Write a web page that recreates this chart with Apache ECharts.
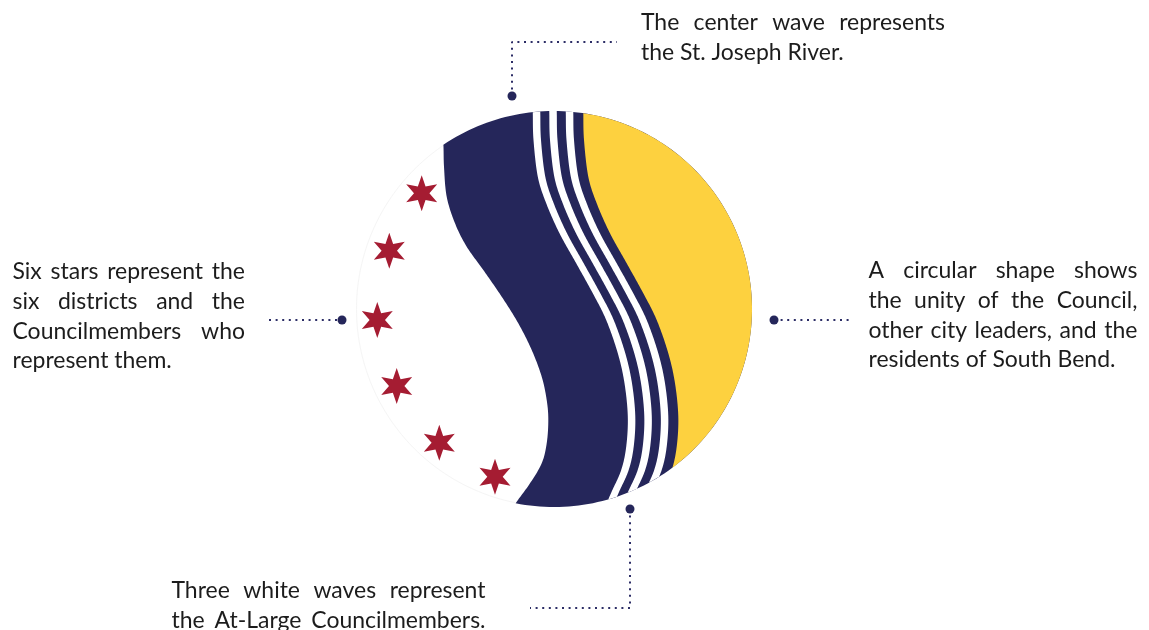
<!DOCTYPE html>
<html>
<head>
<meta charset="utf-8">
<script src="https://cdn.jsdelivr.net/npm/echarts@6/dist/echarts.min.js"></script>
<style>
html,body{margin:0;padding:0;background:#ffffff;}
#main{width:1149px;height:630px;}
</style>
</head>
<body>
<div id="main"></div>
<script>
// ---------------- data (in the chart's own x/y value space) ----------------
const logoRing = [554, 309, 198];            // centre x, centre y, radius
const shoreEdge = [[441,128],[443.3,143.3],[444,166.7],[446.7,196.7],[455,223.3],[466.7,246.7],[483.3,270],[501.7,296.7],[518.3,323.3],[531.7,350],[541.7,376.7],[546.7,400],[548.3,420],[546.7,443.3],[541.7,463.3],[530,483.3],[516.7,501.7],[508,515]];
const riverEdge = [[583,88],[583.3,113.3],[584,140],[588.3,176.7],[596.7,203.3],[610,233.3],[626.7,263.3],[643.3,293.3],[656.7,320],[668.3,353.3],[675,383.3],[678.3,416.7],[676.7,446.7],[671.7,470],[662,492],[652,515]];
const waveOffsets = [[-50.5,-43],[-34,-26.5],[-17.5,-10]];
const starPoints = [[421.7,193.3],[389.3,250.7],[377.3,320],[396.7,386],[439.3,442.7],[495,476.7]];
const calloutDots = [[512,96],[342,320],[774,320],[630,509]];
const calloutTop = [[512,96],[512,42],[617,42]];
const calloutLeft = [[269,320],[342,320]];
const calloutRight = [[774,320],[851,320]];
const calloutBottom = [[630,509],[630,608],[530,608]];
const noteTopLines = ["The center wave represents", "the St. Joseph River."];
const noteLeftLines = ["Six stars represent the", "six districts and the", "Councilmembers who", "represent them."];
const noteRightLines = ["A circular shape shows", "the unity of the Council,", "other city leaders, and the", "residents of South Bend."];
const noteBottomLines = ["Three white waves represent", "the At-Large Councilmembers."];

// ---------------- styles ----------------
const NAVY = '#25265a';
const GOLD = '#fdd13f';
const RED = '#a51c32';
const LINE = '#2c2d66';
const INK = '#1c1c1c';
const FONT = 'Lato';

// ---------------- geometry helpers ----------------
const [CX, CY, CR] = logoRing;
function spline(pts, n) {
  const out = [];
  for (let i = 0; i < pts.length - 1; i++) {
    const p0 = pts[Math.max(i - 1, 0)], p1 = pts[i], p2 = pts[i + 1], p3 = pts[Math.min(i + 2, pts.length - 1)];
    for (let s = 0; s < n; s++) {
      const t = s / n, t2 = t * t, t3 = t2 * t;
      const f = (a, b, c, d) => 0.5 * ((2 * b) + (-a + c) * t + (2 * a - 5 * b + 4 * c - d) * t2 + (-a + 3 * b - 3 * c + d) * t3);
      out.push([f(p0[0], p1[0], p2[0], p3[0]), f(p0[1], p1[1], p2[1], p3[1])]);
    }
  }
  out.push(pts[pts.length - 1].slice());
  return out;
}
const inside = p => (p[0] - CX) ** 2 + (p[1] - CY) ** 2 <= CR * CR;
function cross(a, b) {
  let lo = 0, hi = 1;
  const ia = inside(a);
  for (let k = 0; k < 30; k++) {
    const m = (lo + hi) / 2;
    const p = [a[0] + (b[0] - a[0]) * m, a[1] + (b[1] - a[1]) * m];
    if (inside(p) === ia) lo = m; else hi = m;
  }
  const m = (lo + hi) / 2;
  return [a[0] + (b[0] - a[0]) * m, a[1] + (b[1] - a[1]) * m];
}
function clip(pts) {
  let i0 = pts.findIndex(inside);
  let i1 = pts.length - 1;
  while (i1 >= 0 && !inside(pts[i1])) i1--;
  const out = [];
  if (i0 > 0) out.push(cross(pts[i0 - 1], pts[i0]));
  for (let i = i0; i <= i1; i++) out.push(pts[i]);
  if (i1 < pts.length - 1) out.push(cross(pts[i1 + 1], pts[i1]));
  return out;
}
const ang = p => Math.atan2(p[1] - CY, p[0] - CX);
function arc(a0, a1, n, r) {
  const rr = r || CR;
  const out = [];
  for (let i = 0; i <= n; i++) {
    const a = a0 + (a1 - a0) * i / n;
    out.push([CX + rr * Math.cos(a), CY + rr * Math.sin(a)]);
  }
  return out;
}
const shoreClip = clip(spline(shoreEdge, 16));
function sideShape(c) {
  return c.concat(arc(ang(c[c.length - 1]), ang(c[0]), 160));
}
const shapes = [];
shapes.push({ pts: sideShape(shoreClip), fill: NAVY });
waveOffsets.forEach(o => {
  const l = clip(spline(riverEdge.map(p => [p[0] + o[0], p[1]]), 16));
  const r = clip(spline(riverEdge.map(p => [p[0] + o[1], p[1]]), 16));
  shapes.push({ pts: l.concat(r.reverse()), fill: '#ffffff' });
});
shapes.push({ pts: sideShape(clip(spline(riverEdge, 16))), fill: GOLD });
// faint outline only on the open (white) left side
const aTop = ang(shoreClip[0]), aBot = ang(shoreClip[shoreClip.length - 1]);
const ring = arc(aBot, aTop + Math.PI * 2, 120, CR - 0.5);

function starPath() {
  let d = '';
  for (let k = 0; k < 12; k++) {
    const a = (-90 + k * 30) * Math.PI / 180;
    const r = k % 2 === 0 ? 100 : 43;
    d += (k ? 'L' : 'M') + (r * Math.cos(a)).toFixed(2) + ' ' + (r * Math.sin(a)).toFixed(2);
  }
  return 'path://' + d + 'Z';
}

function dotted(name, pts) {
  return {
    type: 'line', name, data: pts, symbol: 'none', silent: true, z: 4,
    lineStyle: { color: LINE, width: 2, type: [2, 4.6], cap: 'butt', opacity: 1 }
  };
}

const chart = echarts.init(document.getElementById('main'), null, { renderer: 'canvas' });
chart.setOption({
  animation: false,
  backgroundColor: '#ffffff',
  grid: { left: 0, right: 0, top: 0, bottom: 0 },
  xAxis: { type: 'value', min: 0, max: 1149, show: false },
  yAxis: { type: 'value', min: 0, max: 630, inverse: true, show: false },
  series: [
    {
      type: 'custom', name: 'logo', silent: true, z: 2,
      data: [[0, 0]],
      encode: { x: 0, y: 1 },
      renderItem: function (params, api) {
        const children = [{
          type: 'polyline',
          shape: { points: ring.map(p => api.coord(p)) },
          style: { stroke: '#f5f5f5', lineWidth: 1, fill: null }
        }];
        shapes.forEach(s => children.push({
          type: 'polygon',
          shape: { points: s.pts.map(p => api.coord(p)) },
          style: { fill: s.fill }
        }));
        return { type: 'group', children };
      }
    },
    {
      type: 'scatter', name: 'stars', data: starPoints, silent: true, z: 3,
      symbol: starPath(), symbolSize: [31, 36],
      itemStyle: { color: RED, opacity: 1 }
    },
    dotted('c1', calloutTop), dotted('c2', calloutLeft), dotted('c3', calloutRight), dotted('c4', calloutBottom),
    {
      type: 'scatter', name: 'dots', data: calloutDots, silent: true, z: 5,
      symbol: 'circle', symbolSize: 9, itemStyle: { color: NAVY, opacity: 1 }
    }
  ]
});

// ---------------- justified text notes ----------------
const ctx = document.createElement('canvas').getContext('2d');
function w(text, size) { ctx.font = size + 'px ' + FONT; return ctx.measureText(text).width; }
const fitRefs = [["residents of South Bend.", 252], ["represent them.", 164], ["the St. Joseph River.", 193]];
let sz = fitRefs.reduce((acc, r) => acc + r[1] / (w(r[0], 100) / 100), 0) / fitRefs.length;
sz = Math.max(17, Math.min(24, sz));

const blocks = [
  { lines: noteTopLines, x0: 641, x1: 945, base: [30, 60], just: [1, 0] },
  { lines: noteLeftLines, x0: 12.5, x1: 245, base: [279, 309, 339, 368], just: [1, 1, 1, 0] },
  { lines: noteRightLines, x0: 868.5, x1: 1137.5, base: [278, 308, 338, 367], just: [1, 1, 1, 0] },
  { lines: noteBottomLines, x0: 171.5, x1: 485.5, base: [598, 628], just: [1, 1] }
];
const graphics = [];
blocks.forEach(b => {
  b.lines.forEach((line, i) => {
    const p0 = chart.convertToPixel({ gridIndex: 0 }, [b.x0, b.base[i]]);
    const p1 = chart.convertToPixel({ gridIndex: 0 }, [b.x1, b.base[i]]);
    const y = p0[1] - sz * 0.33;
    if (b.just[i]) {
      const words = line.split(' ');
      const ww = words.map(t => w(t, sz));
      const tot = ww.reduce((a, c) => a + c, 0);
      const gap = Math.max(sz * 0.2, (p1[0] - p0[0] - tot) / (words.length - 1));
      let x = p0[0];
      words.forEach((t, k) => {
        graphics.push({ type: 'text', x, y, silent: true, style: { text: t, font: sz + 'px ' + FONT, fill: INK, textAlign: 'left', textVerticalAlign: 'middle' } });
        x += ww[k] + gap;
      });
    } else {
      graphics.push({ type: 'text', x: p0[0], y, silent: true, style: { text: line, font: sz + 'px ' + FONT, fill: INK, textAlign: 'left', textVerticalAlign: 'middle' } });
    }
  });
});
chart.setOption({ graphic: graphics });
</script>
</body>
</html>
